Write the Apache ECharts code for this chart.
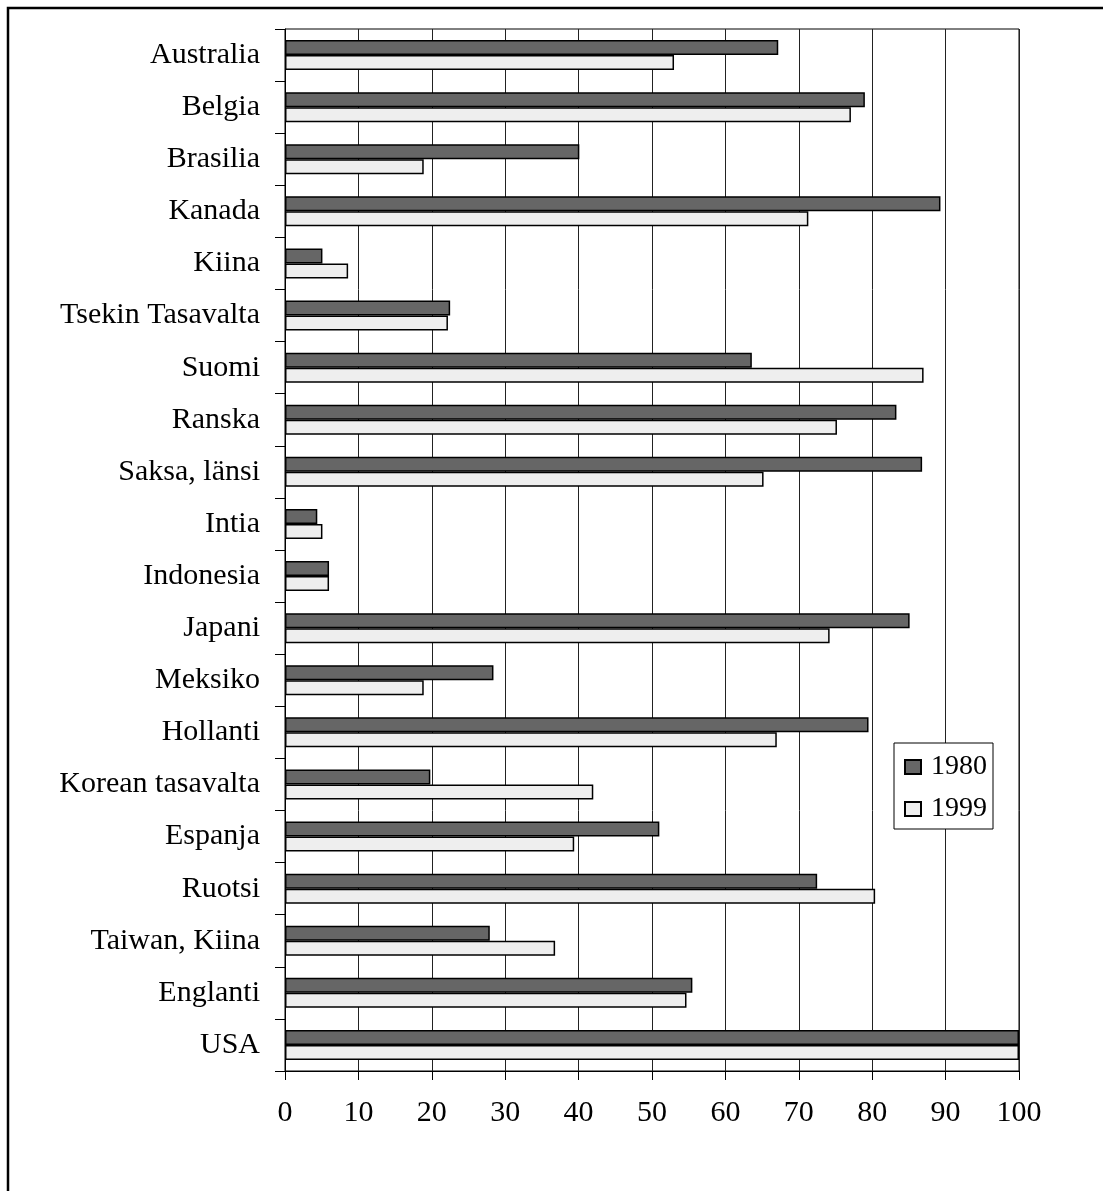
<!DOCTYPE html>
<html>
<head>
<meta charset="utf-8">
<script src="https://cdn.jsdelivr.net/npm/echarts@6/dist/echarts.min.js"></script>
<style>
html,body{margin:0;padding:0;background:#fff;}
#chart{width:1103px;height:1191px;}
</style>
</head>
<body>
<div id="chart"></div>
<script>
const categories = ["Australia","Belgia","Brasilia","Kanada","Kiina","Tsekin Tasavalta","Suomi","Ranska","Saksa, länsi","Intia","Indonesia","Japani","Meksiko","Hollanti","Korean tasavalta","Espanja","Ruotsi","Taiwan, Kiina","Englanti","USA"];
const values1980 = [67.2,79.0,40.1,89.3,5.1,22.5,63.6,83.3,86.8,4.4,6.0,85.1,28.4,79.5,19.8,51.0,72.5,27.9,55.5,100];
const values1999 = [53.0,77.1,18.9,71.3,8.6,22.2,87.0,75.2,65.2,5.1,6.0,74.2,18.9,67.0,42.0,39.4,80.4,36.8,54.7,100];
const seriesNames = ["1980","1999"];
const xTicks = [0,10,20,30,40,50,60,70,80,90,100];

const FONT = "'Liberation Serif','Times New Roman',serif";
const chart = echarts.init(document.getElementById('chart'), null, {renderer:'canvas'});
chart.setOption({
  animation:false,
  backgroundColor:'#fff',
  graphic:[{type:'rect',shape:{x:8,y:8,width:1200,height:1300},style:{fill:'none',stroke:'#000',lineWidth:2.5},z:100}],
  grid:{left:285,right:84,top:29,bottom:120,show:true,borderColor:'#000',borderWidth:1,backgroundColor:'transparent'},
  legend:{
    orient:'vertical',left:894,top:743,
    data:seriesNames,
    icon:'rect',
    backgroundColor:'#fff',borderColor:'#000',borderWidth:1,
    padding:[10,6,6,10],itemGap:14,itemWidth:16,itemHeight:14,
    textStyle:{fontFamily:FONT,fontSize:28,color:'#000',lineHeight:28,padding:[0,0,0,5]},
    z:10
  },
  xAxis:{
    type:'value',min:xTicks[0],max:xTicks[xTicks.length-1],interval:10,
    axisLine:{show:true,lineStyle:{color:'#000',width:1}},
    axisTick:{show:true,length:9,lineStyle:{color:'#000'}},
    axisLabel:{fontFamily:FONT,fontSize:30,color:'#000',margin:27},
    splitLine:{show:true,lineStyle:{color:'#222',width:1}}
  },
  yAxis:{
    type:'category',data:categories,inverse:true,
    axisLine:{show:true,lineStyle:{color:'#000',width:1}},
    axisTick:{show:true,length:10,lineStyle:{color:'#000'}},
    axisLabel:{fontFamily:FONT,fontSize:30,color:'#000',margin:25},
    splitLine:{show:false}
  },
  series:[
    {name:seriesNames[0],type:'bar',data:values1980,barWidth:15,barGap:'0%',
     itemStyle:{color:'#666666',borderColor:'#000',borderWidth:1.5}},
    {name:seriesNames[1],type:'bar',data:values1999,barWidth:15,barGap:'0%',
     itemStyle:{color:'#eeeeee',borderColor:'#000',borderWidth:1.5}}
  ]
});
</script>
</body>
</html>
